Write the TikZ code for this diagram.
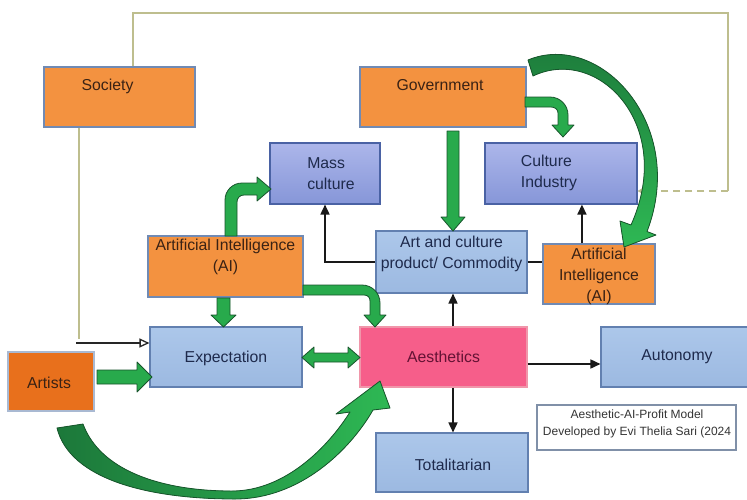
\documentclass[tikz,border=0pt]{standalone}
\usepackage{fontspec}
\setmainfont{Liberation Sans}
\usetikzlibrary{arrows.meta}

\definecolor{orangefill}{RGB}{243,146,64}
\definecolor{artistfill}{RGB}{232,112,28}
\definecolor{orangeedge}{RGB}{112,138,180}
\definecolor{pinkfill}{RGB}{246,94,138}
\definecolor{pinkedge}{RGB}{240,150,170}
\definecolor{paletop}{RGB}{172,199,234}
\definecolor{palebot}{RGB}{156,185,225}
\definecolor{paleedge}{RGB}{98,128,176}
\definecolor{masstop}{RGB}{172,182,234}
\definecolor{massbot}{RGB}{134,150,216}
\definecolor{massedge}{RGB}{74,98,164}
\definecolor{orangetext}{RGB}{58,34,20}
\definecolor{bluetext}{RGB}{30,42,76}
\definecolor{pinktext}{RGB}{100,18,52}
\definecolor{ggreen}{RGB}{40,170,76}
\definecolor{gbright}{RGB}{46,184,84}
\definecolor{gdeep}{RGB}{28,120,58}
\definecolor{gdark}{RGB}{24,84,44}
\definecolor{olive}{RGB}{190,190,142}
\definecolor{capedge}{RGB}{128,144,168}
\definecolor{captext}{RGB}{52,52,52}

\newcommand\dgmfont{\fontsize{15.8}{21}\selectfont}
\newcommand\capfont{\fontsize{12}{17}\selectfont}

\begin{document}
\begin{tikzpicture}[x=1pt,y=-1pt,
  box/.style={rectangle, inner sep=0pt, line width=1.1pt},
  orangebox/.style={box, draw=orangeedge, fill=orangefill},
  artistbox/.style={box, draw=orangeedge!60!white, fill=artistfill},
  palebox/.style={box, draw=paleedge, top color=paletop, bottom color=palebot},
  massbox/.style={box, draw=massedge, top color=masstop, bottom color=massbot},
  pinkbox/.style={box, draw=pinkedge, fill=pinkfill},
  capbox/.style={box, draw=capedge, fill=white, line width=1.2pt},
  otext/.style={font=\dgmfont, text=orangetext, align=center, inner sep=0pt},
  btext/.style={font=\dgmfont, text=bluetext, align=center, inner sep=0pt},
  ptext/.style={font=\dgmfont, text=pinktext, align=center, inner sep=0pt},
  ctext/.style={font=\capfont, text=captext, align=center, inner sep=0pt},
  blkline/.style={draw=black!90, line width=1.6pt},
  blk/.style={blkline, -{Triangle[length=10pt,width=9pt]}},
  olivepath/.style={draw=olive, line width=1.3pt},
  garrow/.style={fill=ggreen, draw=gdark, line width=0.8pt, line join=round},
]
\useasboundingbox[fill=white] (0,0) rectangle (747,499);

% ---------- boxes ----------
\node[orangebox, minimum width=151pt, minimum height=60pt] (soc) at (119.5,97) {};
\node[orangebox, minimum width=166pt, minimum height=60pt] (gov) at (443,97) {};
\node[massbox, minimum width=110pt, minimum height=61pt] (mass) at (325,173.5) {};
\node[massbox, minimum width=152pt, minimum height=61pt] (cind) at (561,173.5) {};
\node[palebox, minimum width=151pt, minimum height=62pt] (art) at (451.5,262) {};
\node[orangebox, minimum width=155pt, minimum height=61pt] (ail) at (225.5,266.5) {};
\node[orangebox, minimum width=112pt, minimum height=60pt] (air) at (599,274) {};
\node[palebox, minimum width=152pt, minimum height=60pt] (exp) at (226,357) {};
\node[pinkbox, minimum width=167pt, minimum height=60pt] (aes) at (443.5,357) {};
\node[palebox, minimum width=147pt, minimum height=60pt] (auto) at (674.5,357) {};
\node[artistbox, minimum width=86pt, minimum height=59pt] (artists) at (51,381.5) {};
\node[palebox, minimum width=152pt, minimum height=59pt] (tot) at (452,462.5) {};
\node[capbox, minimum width=199pt, minimum height=45pt] (cap) at (636.5,427.5) {};

% ---------- thin feedback lines ----------
\coordinate (loopR) at (728,13);
\coordinate (fb) at ([yshift=-17.5pt]cind.east);
\draw[olivepath] ([xshift=13.5pt]soc.north) |- (loopR) -- (loopR |- fb);
\draw[olivepath, dash pattern=on 7pt off 5pt, -{Triangle[length=8pt,width=9pt]}] (loopR |- fb) -- (fb);
\coordinate (sdrop) at ([xshift=-40.5pt]soc.south);
\draw[olivepath] (sdrop) -- ++(0,211);
\coordinate (sin) at (76,343);
\draw[draw=black!85, line width=1.3pt, -{Triangle[open,length=10pt,width=9pt]}] (sin) -- (sin -| exp.west);

% ---------- black connectors ----------
\draw[blk] (art.west) -| (mass.south);
\draw[blkline] (art.east) -- (art.east -| air.west);
\draw[blk] ([xshift=39.5pt]air.north west) -- ([xshift=39.5pt]air.north west |- cind.south);
\draw[blk] ([xshift=1.5pt]aes.north -| art.south) -- ([xshift=1.5pt]art.south);
\draw[blk] ([xshift=1pt]aes.south -| tot.north) -- ([xshift=1pt]tot.north);
\draw[blk] ([yshift=-7pt]aes.east) -- ([yshift=-7pt]aes.east -| auto.west);

% ---------- green block arrows ----------
% Artists -> Expectation
\path[garrow] (97,370) -- (137,370) -- (137,362) -- (152,377) -- (137,392) -- (137,384) -- (97,384) -- cycle;
% Expectation <-> Aesthetics
\path[garrow] (302,357.5) -- (314,347) -- (314,353) -- (348,353) -- (348,347) -- (360,357.5)
  -- (348,368) -- (348,362) -- (314,362) -- (314,368) -- cycle;
% AI -> Expectation
\path[garrow] (217,298) -- (230,298) -- (230,315) -- (236,315) -- (223.5,327) -- (211,315) -- (217,315) -- cycle;
% Government -> Art and culture product
\path[garrow] (447,131) -- (459,131) -- (459,217) -- (465,217) -- (453,231) -- (441,217) -- (447,217) -- cycle;
% AI -> Mass culture
\path[garrow] (225,236) -- (225,200) .. controls (225,190.6) and (232.6,183) .. (242,183) -- (257,183)
  -- (257,177) -- (271,189) -- (257,201) -- (257,195) -- (244,195)
  .. controls (240,195) and (237,198) .. (237,202) -- (237,236) -- cycle;
% AI -> Aesthetics
\path[garrow] (303,285) -- (362,285) .. controls (372,285) and (380,293) .. (380,303) -- (380,315)
  -- (386,315) -- (375,327) -- (364,315) -- (370,315) -- (370,301)
  .. controls (370,297.5) and (368,295) .. (364,295) -- (303,295) -- cycle;
% Government -> Culture Industry
\path[garrow] (525,97) -- (550,97) .. controls (560,97) and (568,105) .. (568,115) -- (568,125)
  -- (574,125) -- (563,137) -- (552,125) -- (558,125) -- (558,113)
  .. controls (558,109.5) and (555,107) .. (551,107) -- (525,107) -- cycle;
% Government -> AI (right), sweeping arc
\path[garrow, top color=gdeep, bottom color=gbright]
  (528,60) .. controls (600,30) and (688,125) .. (647,231.5)
  -- (656,235) -- (624,247) -- (620,221) -- (631,225)
  .. controls (676,125) and (598,45) .. (533,76) -- cycle;
% Artists -> Aesthetics, sweeping arc
\path[garrow, left color=gdeep, right color=gbright]
  (57,428) .. controls (70,480) and (150,499) .. (235,499)
  .. controls (300,499) and (350,450) .. (373,410)
  -- (390,408) -- (380,381) -- (336,414) -- (350,412)
  .. controls (328,447) and (285,491) .. (232,491)
  .. controls (160,491) and (100,470) .. (83,424) -- cycle;

% ---------- labels ----------
\node[otext] (soct) at (107.5,86) {Society};
\node[otext] (govt) at (440,85) {Government};
\node[btext, align=left] (masst) at (331,174) {Mass\\culture};
\node[btext, align=left] (cindt) at (549,172.5) {Culture\\Industry};
\node[btext] (artt) at (451.5,253.5) {Art and culture\\product/ Commodity};
\node[otext] (ailt) at (225.5,256.5) {Artificial Intelligence\\(AI)};
\node[otext] (airt) at (599,276) {Artificial\\Intelligence\\(AI)};
\node[btext] (expt) at (226,358) {Expectation};
\node[ptext] (aest) at (443.5,357) {Aesthetics};
\node[btext] (autot) at (677,357) {Autonomy};
\node[otext] (artistst) at (49,383) {Artists};
\node[btext] (tott) at (453,465) {Totalitarian};
\node[ctext] (capt) at (637,423.5) {Aesthetic-AI-Profit Model\\Developed by Evi Thelia Sari (2024};
\end{tikzpicture}
\end{document}
